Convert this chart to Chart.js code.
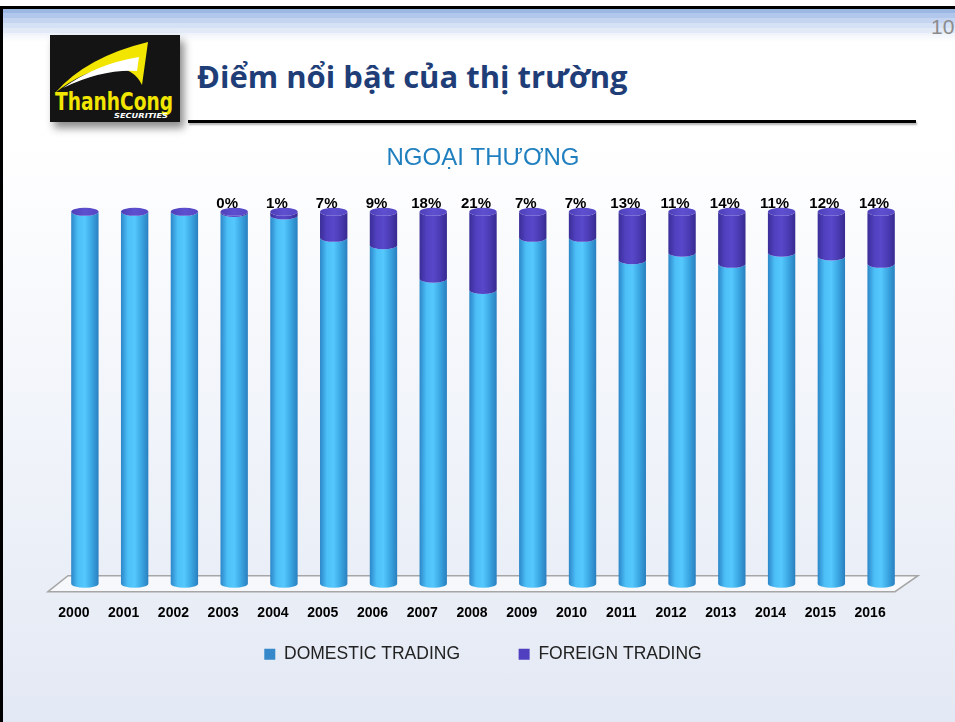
<!DOCTYPE html>
<html>
<head>
<meta charset="utf-8">
<script src="https://cdn.jsdelivr.net/npm/chart.js@4.4.0/dist/chart.umd.min.js"></script>
<style>
    html, body { margin: 0; padding: 0; }
    body {
        width: 955px; height: 722px; position: relative; overflow: hidden;
        background: linear-gradient(#ffffff 0px, #ffffff 130px, #e3e9f4 722px);
        font-family: 'Liberation Sans', Arial, sans-serif;
    }
    #topLine { position: absolute; left: 0; top: 6px; width: 955px; height: 3px; background: #000; }
    #leftLine { position: absolute; left: 0; top: 6px; width: 3px; height: 716px; background: #000; }
    #band {
        position: absolute; left: 3px; top: 9px; width: 952px; height: 33px;
        background: linear-gradient(#9db7e3 0px, #9db7e3 4px, #b2c7ec 4px, #b2c7ec 9px,
            #c5d5f1 9px, #c5d5f1 14px, #d5e1f5 14px, #d5e1f5 19px, #e2eaf8 19px, #e2eaf8 24px,
            #eef3fa 24px, #ffffff 33px);
    }
    #pageNo { position: absolute; left: 931px; top: 15px; font-size: 21px; color: #8c8c8c; }
    #logo {
        position: absolute; left: 50px; top: 35px; width: 130px; height: 87px;
        box-shadow: 4px 6px 8px rgba(0, 0, 0, 0.45);
    }
    #slideTitle {
        position: absolute; left: 197px; top: 55px; margin: 0;
        font-family: 'Open Sans', sans-serif; font-weight: bold; font-size: 31px;
        color: #1f3e78; white-space: nowrap;
    }
    #rule {
        position: absolute; left: 188px; top: 120px; width: 728px; height: 3px;
        background: #000; box-shadow: 1px 2px 2px rgba(0, 0, 0, 0.3);
    }
    #chart { position: absolute; left: 0; top: 0; }
</style>
</head>
<body>
<div id="topLine"></div>
<div id="leftLine"></div>
<div id="band"></div>
<div id="pageNo">10</div>
<svg id="logo" width="130" height="87" viewBox="0 0 130 87">
    <rect width="130" height="87" fill="#141414"/>
    <path d="M5 58 Q36 22 98 7 L92 50 Q84 33 62 32 Q32 36 5 58 Z" fill="#f2e600"/>
    <path d="M13 53 Q46 29 89 22 L87 36 Q52 34 13 53 Z" fill="#ffffff"/>
    <text x="5" y="75" textLength="118" lengthAdjust="spacingAndGlyphs"
          font-family="DejaVu Sans" font-weight="bold" font-size="25" fill="#f2e600">ThanhCong</text>
    <text x="64" y="83" textLength="54" lengthAdjust="spacingAndGlyphs"
          font-family="DejaVu Sans" font-weight="bold" font-style="italic" font-size="7" fill="#ffffff">SECURITIES</text>
</svg>
<h1 id="slideTitle">Điểm nổi bật của thị trường</h1>
<div id="rule"></div>
<canvas id="chart" width="955" height="722"></canvas>
<script>
// values (share of trading value, %)
const years = ['2000', '2001', '2002', '2003', '2004', '2005', '2006', '2007', '2008',
    '2009', '2010', '2011', '2012', '2013', '2014', '2015', '2016'];
const domesticShare = [100, 100, 100, 99.7, 99, 93, 91, 82, 79, 93, 93, 87, 89, 86, 89, 88, 86];
const foreignShare = [0, 0, 0, 0.3, 1, 7, 9, 18, 21, 7, 7, 13, 11, 14, 11, 12, 14];

function shade(ctx, left, right, stops) {
    const g = ctx.createLinearGradient(left, 0, right, 0);
    stops.forEach((c, i) => g.addColorStop(i / (stops.length - 1), c));
    return g;
}

function drawBody(ctx, x, top, base, rx, ry, stops) {
    ctx.beginPath();
    ctx.moveTo(x - rx, top);
    ctx.lineTo(x - rx, base);
    ctx.ellipse(x, base, rx, ry, 0, Math.PI, 0, true);
    ctx.lineTo(x + rx, top);
    ctx.ellipse(x, top, rx, ry, 0, 0, Math.PI, false);
    ctx.closePath();
    ctx.fillStyle = shade(ctx, x - rx, x + rx, stops);
    ctx.fill();
}

// floor + cylinders instead of flat bars
const cylinders = {
    id: 'cylinders',
    beforeDatasetsDraw(chart) {
        const {ctx, chartArea} = chart;
        const l = chartArea.left, r = chartArea.right, b = chartArea.bottom;
        ctx.save();
        ctx.beginPath();
        ctx.moveTo(l - 12, b + 8);
        ctx.lineTo(l + 8, b - 8);
        ctx.lineTo(r + 12, b - 8);
        ctx.lineTo(r - 11, b + 8);
        ctx.closePath();
        ctx.fillStyle = '#f6f8fc';
        ctx.fill();
        ctx.strokeStyle = '#a6a6a6';
        ctx.lineWidth = 1.5;
        ctx.stroke();

        const dom = chart.getDatasetMeta(0).data;
        const fgn = chart.getDatasetMeta(1).data;
        dom.forEach((bar, i) => {
            const d = bar.getProps(['x', 'y', 'base', 'width'], true);
            const f = fgn[i].getProps(['x', 'y', 'base', 'width'], true);
            const rx = d.width / 2, ry = 4;
            drawBody(ctx, d.x, d.y, d.base, rx, ry, ['#2c86c8', '#4cbff7', '#55c8fd', '#3aa6e2', '#2a7fbf']);
            if (f.base - f.y > 0.3) {
                drawBody(ctx, f.x, f.y, f.base, rx, ry, ['#3a2d97', '#5141c0', '#5848ca', '#4a3bb3', '#372a90']);
            }
            ctx.beginPath();
            ctx.ellipse(f.x, f.y, rx, ry, 0, 0, Math.PI * 2);
            ctx.fillStyle = shade(ctx, f.x - rx, f.x + rx, ['#4d3fb8', '#5e4fd0', '#5546c4']);
            ctx.fill();
        });
        ctx.restore();
        return false;
    },
    afterDraw(chart) {
        const {ctx} = chart;
        const fgn = chart.getDatasetMeta(1).data;
        ctx.save();
        ctx.font = 'bold 15px "Liberation Sans", Arial';
        ctx.fillStyle = '#000';
        ctx.textAlign = 'center';
        ctx.textBaseline = 'alphabetic';
        foreignShare.forEach((v, i) => {
            if (!v) return;
            ctx.fillText(Math.round(v) + '%', fgn[i].x - 7, fgn[i].y - 4);
        });
        ctx.restore();
    }
};

const chart = new Chart(document.getElementById('chart').getContext('2d'), {
    type: 'bar',
    data: {
        labels: years,
        datasets: [{
            label: 'DOMESTIC TRADING',
            data: domesticShare,
            backgroundColor: '#3589cb',
            borderWidth: 0
        }, {
            label: 'FOREIGN TRADING',
            data: foreignShare,
            backgroundColor: '#5040c0',
            borderWidth: 0
        }]
    },
    plugins: [cylinders],
    options: {
        responsive: false,
        animation: false,
        layout: {
            padding: { left: 60, right: 49, top: 144, bottom: 49 }
        },
        datasets: {
            bar: { barPercentage: 1, categoryPercentage: 0.55 }
        },
        scales: {
            x: {
                stacked: true,
                grid: { display: false },
                border: { display: false },
                ticks: {
                    color: '#000',
                    font: { family: '"Liberation Sans", Arial', size: 14, weight: 'bold' },
                    padding: 13,
                    labelOffset: -11,
                    maxRotation: 0,
                    autoSkip: false
                },
                afterFit(axis) {
                    axis.height += 1;
                }
            },
            y: {
                stacked: true,
                display: false,
                min: 0,
                max: 100
            }
        },
        plugins: {
            title: {
                display: true,
                text: 'NGOẠI THƯƠNG',
                color: '#1f7fbf',
                font: { family: '"Liberation Sans", Arial', size: 24, weight: 'normal' },
                padding: { top: 0, bottom: 39 }
            },
            legend: {
                position: 'bottom',
                labels: {
                    color: '#222',
                    font: { family: '"Liberation Sans", Arial', size: 17.5 },
                    boxWidth: 11,
                    boxHeight: 11,
                    padding: 10,
                    // wider gap between the two entries, as on the slide
                    generateLabels(c) {
                        const items = Chart.defaults.plugins.legend.labels.generateLabels(c);
                        items[0].text += '\u00a0'.repeat(10);
                        return items;
                    }
                }
            },
            tooltip: { enabled: false }
        }
    }
});
</script>
</body>
</html>
